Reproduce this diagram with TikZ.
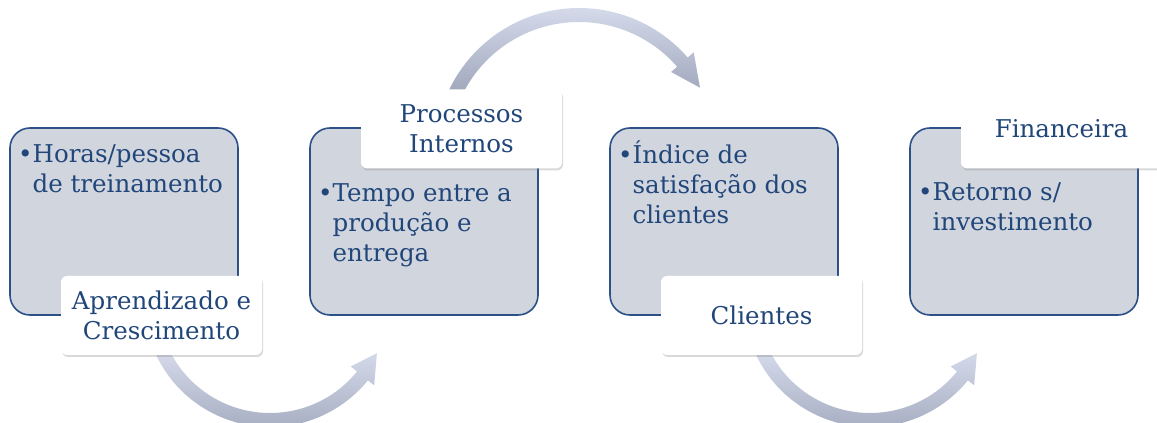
\documentclass[tikz,border=0pt]{standalone}
\usepackage{fontspec}
\setmainfont{DejaVu Serif}
\usetikzlibrary{shadows}
\definecolor{boxfill}{RGB}{209,213,222}
\definecolor{boxline}{RGB}{44,80,136}
\definecolor{txtblue}{RGB}{33,70,122}
\definecolor{arrlight}{RGB}{214,220,236}
\definecolor{arrdark}{RGB}{158,165,185}
\tikzset{
  persp/.style = {draw=boxline, fill=boxfill, line width=1.6pt,
    rounded corners=20pt, minimum width=228pt, minimum height=187pt,
    inner sep=0pt},% caixa da perspectiva
  rotulo/.style = {fill=white, rounded corners=6pt, minimum width=201pt,
    minimum height=79pt, align=center, text=txtblue,
    font=\fontsize{24.5}{30}\selectfont,
    drop shadow={opacity=0.3, shadow xshift=1pt, shadow yshift=-2pt}},% nome
  itens/.style = {anchor=north west, align=left, inner sep=0pt,
    text=txtblue, font=\fontsize{24.5}{30}\selectfont},% indicadores
  seta/.style = {top color=arrlight, bottom color=arrdark}% seta curva
}

\begin{document}
\begin{tikzpicture}[x=1pt,y=1pt]
  \useasboundingbox (0,0) rectangle (1157,423);
  % caixas
  \node [persp] (aprend) at (124,201.5) {};
  \node [persp] (proc) at (424,201.5) {};
  \node [persp] (cli) at (724,201.5) {};
  \node [persp] (fin) at (1024,201.5) {};
  % setas
  \coordinate (c1) at (270,122);
  \coordinate (c2) at (579,271);
  \coordinate (c3) at (870,122);
  \shade [seta] ([shift={(205:126)}]c1) arc[start angle=205, end angle=321, radius=126]
    -- ([shift={(321:134)}]c1) -- ([shift={(334:119)}]c1) -- ([shift={(321:104)}]c1)
    -- ([shift={(321:112)}]c1) arc[start angle=321, end angle=205, radius=112] -- cycle;
  \shade [seta] ([shift={(155:144)}]c2) arc[start angle=155, end angle=41, radius=144]
    -- ([shift={(41:152)}]c2) -- ([shift={(28:137)}]c2) -- ([shift={(41:122)}]c2)
    -- ([shift={(41:130)}]c2) arc[start angle=41, end angle=155, radius=130] -- cycle;
  \shade [seta] ([shift={(205:126)}]c3) arc[start angle=205, end angle=321, radius=126]
    -- ([shift={(321:134)}]c3) -- ([shift={(334:119)}]c3) -- ([shift={(321:104)}]c3)
    -- ([shift={(321:112)}]c3) arc[start angle=321, end angle=205, radius=112] -- cycle;
  % rotulos
  \node [rotulo] (laprend) at (161.5,107.5) {Aprendizado e\\Crescimento};
  \node [rotulo] (lproc) at (461.5,294) {Processos\\Internos};
  \node [rotulo] (lcli) at (761.5,107.5) {Clientes};
  \node [rotulo] (lfin) at (1061.5,294) {Financeira};
  % indicadores
  \node [itens] (taprend) at (18,282)
    {\strut\textbullet Horas/pessoa\\\hphantom{\textbullet}de treinamento};
  \node [itens] (tproc) at (318,243)
    {\strut\textbullet Tempo entre a\\\hphantom{\textbullet}produção e\\\hphantom{\textbullet}entrega};
  \node [itens] (tcli) at (618,282)
    {\strut\textbullet Índice de\\\hphantom{\textbullet}satisfação dos\\\hphantom{\textbullet}clientes};
  \node [itens] (tfin) at (918,244)
    {\strut\textbullet Retorno s/\\\hphantom{\textbullet}investimento};
\end{tikzpicture}
\end{document}
